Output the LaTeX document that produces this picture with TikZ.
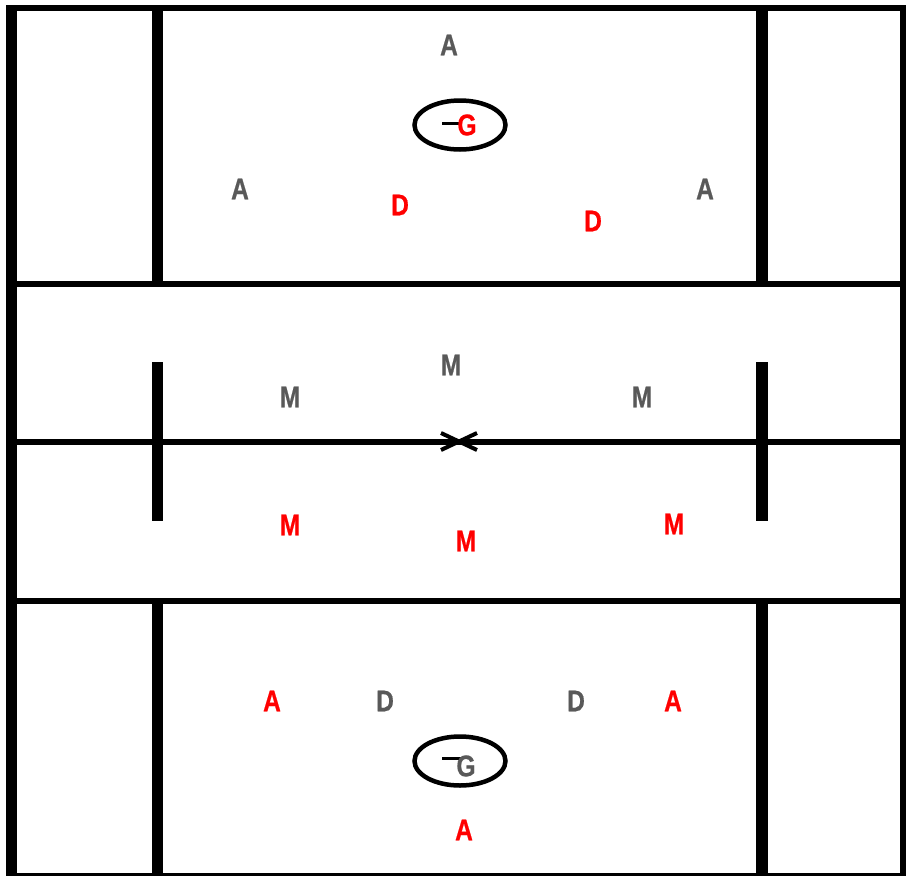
\documentclass[tikz,border=0pt]{standalone}
\usepackage{fontspec}
\usetikzlibrary{shapes.geometric}
\setmainfont{Liberation Sans}[FakeStretch=0.82]
\definecolor{pgray}{HTML}{595959}
\definecolor{pred}{HTML}{FF0000}
\begin{document}
\begin{tikzpicture}[x=1pt,y=-1pt,
  pl/.style={font=\fontsize{30}{30}\selectfont\bfseries\addfontfeatures{FakeBold=0.6}, inner sep=0pt},
  gr/.style={pl, text=pgray},
  rd/.style={pl, text=pred},
  field/.style={line width=6pt, line cap=butt},
  post/.style={line width=11.5pt, line cap=butt},
  goal/.style={draw, ellipse, line width=4.5pt, minimum width=91pt, minimum height=49pt, inner sep=0pt},
  crease/.style={line width=3.5pt}]
\useasboundingbox (0,0) rectangle (906,876);
\fill[white] (0,0) rectangle (906,876);
% outer border
\fill (6,5) rectangle (17,876);
\fill (6,5) rectangle (906,11);
\fill (900,5) rectangle (906,876);
\fill (6,873) rectangle (906,876);
% horizontal lines
\draw[field] (17,284) -- (900,284);
\draw[field, line width=5.5pt] (17,442) -- (900,442);
\draw[field] (17,601) -- (900,601);
% vertical lines
\draw[post] (157.5,11) -- (157.5,281);
\draw[post] (762,11) -- (762,281);
\draw[post] (157.5,362) -- (157.5,521);
\draw[post] (762,362) -- (762,521);
\draw[post] (157.5,604) -- (157.5,873);
\draw[post] (762,604) -- (762,873);
% center X
\draw[line width=4pt] (441,433) -- (477,450) (441,450) -- (477,433);
% goals
\node[goal] (g1) at (460,125) {};
\draw[crease] (442,123.5) -- (461,123.5);
\node[rd] (G1) at (467,125) {G};
\node[goal] (g2) at (460,761) {};
\draw[crease] (442,758.5) -- (461,758.5);
\node[gr] (G2) at (466,766) {G};
% top half
\node[gr] (a1) at (449,45) {A};
\node[gr] (a2) at (240,189) {A};
\node[gr] (a3) at (705,189) {A};
\node[rd] (d1) at (400,205) {D};
\node[rd] (d2) at (593,221) {D};
% midfield
\node[gr] (m1) at (451,365) {M};
\node[gr] (m2) at (290,397) {M};
\node[gr] (m3) at (642,397) {M};
\node[rd] (m4) at (290,525) {M};
\node[rd] (m5) at (466,541) {M};
\node[rd] (m6) at (674,524) {M};
% bottom half
\node[rd] (a4) at (272,701) {A};
\node[gr] (d3) at (385,701) {D};
\node[gr] (d4) at (576,701) {D};
\node[rd] (a5) at (673,701) {A};
\node[rd] (a6) at (464,830) {A};
\end{tikzpicture}
\end{document}
